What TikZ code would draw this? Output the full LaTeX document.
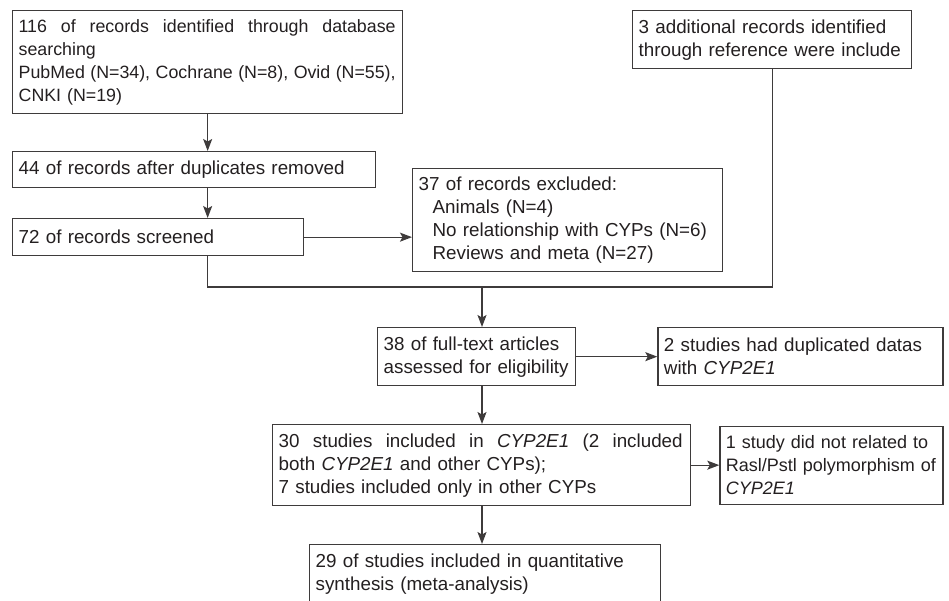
\documentclass[tikz,border=0pt]{standalone}
\usepackage{fontspec}
\setmainfont{Liberation Sans}
\usepackage{xcolor}
\usepackage{tikz}
\usetikzlibrary{arrows.meta, positioning}
\definecolor{linec}{RGB}{62,59,59}
\definecolor{txtc}{RGB}{35,31,32}
\newcommand{\spreadline}[2]{\leavevmode\hbox to #1{\spaceskip=0.278em plus 1fil\relax #2}}

\begin{document}
\begin{tikzpicture}[
  x=1pt, y=-1pt,
  box/.style = {rectangle, draw=linec, line width=1.3pt, anchor=north west, align=left,
                inner xsep=6pt, inner ysep=4pt, text=txtc,
                font=\fontsize{18.8}{23}\selectfont},
  line/.style = {draw=linec, line width=1.3pt},
  arr/.style = {line, -{Stealth[length=12pt, width=9pt, inset=2.5pt]}}
]
  \useasboundingbox (0,0) rectangle (949,600);

  \node[box, text width=378pt, minimum height=103pt, font=\fontsize{17.8}{23}\selectfont] (srch) at (12,10)
       {\spreadline{377pt}{116 of records identified through database}\\searching\\\spreadline{377pt}{PubMed (N=34), Cochrane (N=8), Ovid (N=55),}\\CNKI (N=19)};
  \node[box, text width=267pt, minimum height=58pt] (add) at (632,10)
       {3 additional records identified\\through reference were include};
  \node[box, text width=351pt, minimum height=36pt] (dup) at (12,151)
       {44 of records after duplicates removed};
  \node[box, text width=279pt, minimum height=37pt] (scrn) at (12,218)
       {72 of records screened};
  \node[box, text width=298pt, minimum height=103pt] (excl) at (412,168)
       {37 of records excluded:\\\hspace*{14pt}Animals (N=4)\\\hspace*{14pt}No relationship with CYPs (N=6)\\\hspace*{14pt}Reviews and meta (N=27)};

  \coordinate (mrg) at (482,287);

  \node[box, text width=186pt, minimum height=58pt] (full) at (377,327)
       {38 of full-text articles\\assessed for eligibility};
  \node[box, text width=273pt, minimum height=58pt, right=81pt of full.east, anchor=west] (dupl)
       {2 studies had duplicated datas\\with \textit{CYP2E1}};
  \node[box, text width=406pt, minimum height=81pt] (incl) at (272,424)
       {\spreadline{404pt}{30 studies included in \textit{CYP2E1} (2 included}\\both \textit{CYP2E1} and other CYPs);\\7 studies included only in other CYPs};
  \node[box, text width=211pt, minimum height=78pt, right=28pt of incl.east, anchor=west,
        font=\fontsize{18}{23}\selectfont] (nrel)
       {1 study did not related to\\Rasl/Pstl polymorphism of\\\textit{CYP2E1}};
  \node[box, text width=339pt, minimum height=58pt] (qual) at (309,544)
       {29 of studies included in quantitative\\synthesis (meta-analysis)};

  \draw[arr] (srch.south) -- (dup.north -| srch.south);
  \draw[arr] (dup.south -| srch.south) -- (scrn.north -| srch.south);
  \draw[arr] (scrn.east) -- (scrn.east -| excl.west);
  \draw[line] (scrn.south -| srch.south) |- (mrg) -| (add.south);
  \draw[arr] (mrg) -- (full.north -| mrg);
  \draw[arr] (full.east) -- (dupl.west);
  \draw[arr] (full.south -| mrg) -- (incl.north -| mrg);
  \draw[arr] (incl.east) -- (nrel.west);
  \draw[arr] (incl.south -| mrg) -- (qual.north -| mrg);
\end{tikzpicture}
\end{document}
